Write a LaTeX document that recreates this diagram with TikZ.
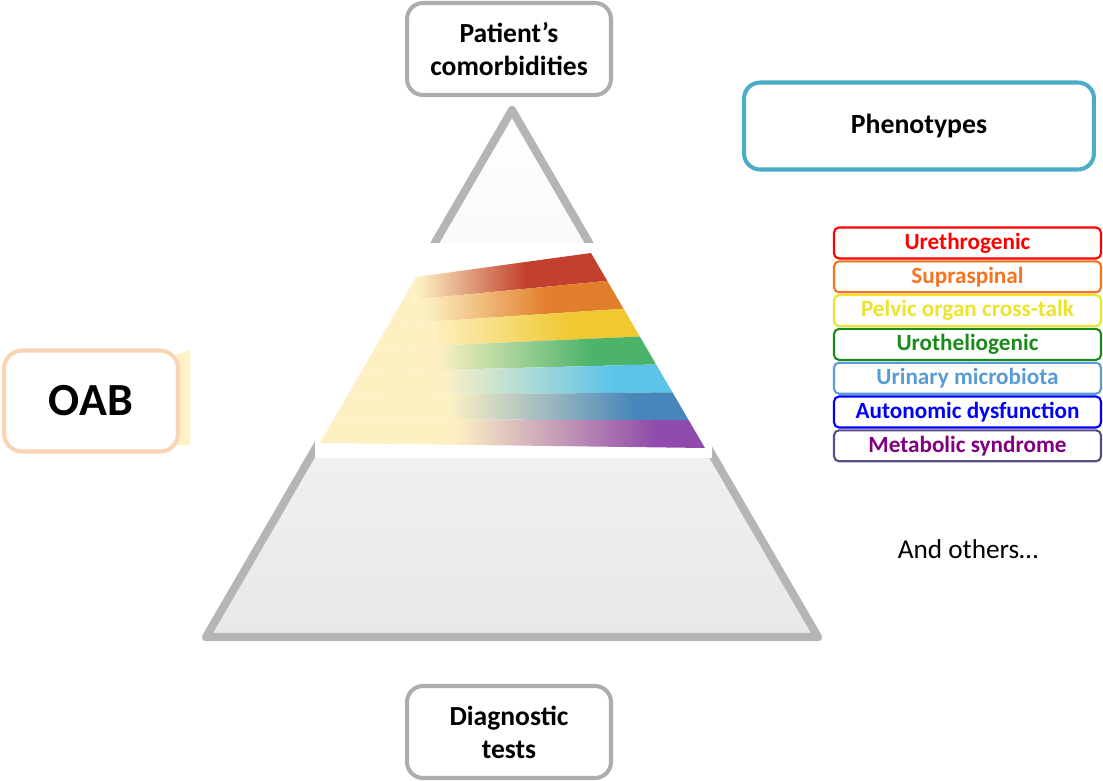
\documentclass[tikz,border=0pt]{standalone}
\usepackage{fontspec}
\setmainfont{Carlito}
\usetikzlibrary{calc}

\definecolor{pyrline}{HTML}{B5B5B5}
\definecolor{boxgrey}{HTML}{ADADAD}
\definecolor{phenoblue}{HTML}{4BACC6}
\definecolor{oabpeach}{HTML}{FBD4B4}
\definecolor{oabshade}{HTML}{FFF2C6}
\definecolor{pale}{HTML}{FDF1C4}
\definecolor{stripeA}{HTML}{C2412E}
\definecolor{stripeB}{HTML}{E17F2C}
\definecolor{stripeC}{HTML}{F0C832}
\definecolor{stripeD}{HTML}{4CB46A}
\definecolor{stripeE}{HTML}{5DC3E9}
\definecolor{stripeF}{HTML}{4786BA}
\definecolor{stripeG}{HTML}{8F4AAB}
\definecolor{lgRed}{HTML}{FF0000}
\definecolor{lgOrange}{HTML}{F8731F}
\definecolor{lgYellow}{HTML}{EDE22C}
\definecolor{lgGreen}{HTML}{1A8A1A}
\definecolor{lgLight}{HTML}{5B9BD5}
\definecolor{lgBlue}{HTML}{0000FF}
\definecolor{lgPurple}{HTML}{800080}
\definecolor{lgPurpleLine}{HTML}{5E4C86}

\tikzset{
	greybox/.style={draw=boxgrey, line width=2.3pt, fill=white, rounded corners=0.32cm,
		minimum width=4.08cm, minimum height=1.84cm, align=center, font=\bfseries\fontsize{15.7}{18.7}\selectfont},
	legbox/.style={line width=1.2pt, fill=white, rounded corners=0.1cm,
		minimum width=5.34cm, minimum height=0.62cm, inner sep=0pt, font=\bfseries\fontsize{13.2}{14}\selectfont}
}

\begin{document}
\begin{tikzpicture}[x=0.02cm, y=-0.02cm]
			%%%%% START %%%%%
			\useasboundingbox (0, 0) rectangle (1103, 781);
			
			% pyramid
			\filldraw[draw=pyrline, line width=4.6pt, line join=round, top color=white, bottom color=white!91!black]
				(512, 110) -- (818, 637) -- (206, 637) -- cycle;
			\fill[white] (315, 243) rectangle (712, 458);
			
			% coloured band
			\coordinate (tl) at (416, 277);
			\coordinate (bl) at (320, 443);
			\coordinate (tr) at (591, 253);
			\coordinate (br) at (705, 448);
			\foreach \c [count=\i from 0] in {stripeA,stripeB,stripeC,stripeD,stripeE,stripeF,stripeG} {
				\pgfmathsetmacro\ta{\i/7}
				\pgfmathsetmacro\tb{(\i+1)/7}
				\pgfmathsetmacro\fa{418+6*\i}
				\pgfmathsetmacro\fb{525+22*\i}
				\begin{scope}
					\clip ($(tl)!\ta!(bl)$) -- ($(tr)!\ta!(br)$) -- ($(tr)!\tb!(br)$) -- ($(tl)!\tb!(bl)$) -- cycle;
					\fill[pale] (300, 240) rectangle (\fa, 460);
					\shade[left color=pale, right color=\c] (\fa, 240) rectangle (\fb, 460);
					\fill[\c] (\fb, 240) rectangle (720, 460);
				\end{scope}
			}
			
			% boxes
			\node[greybox] (comorb) at (509, 49) {Patient’s\\comorbidities};
			\node[greybox] (diag) at (509, 732) {Diagnostic\\tests};
			
			\node[draw=phenoblue, line width=2.3pt, fill=white, rounded corners=0.32cm, minimum width=7cm, minimum height=1.74cm,
				font=\bfseries\fontsize{15.8}{18}\selectfont] (pheno) at (919, 126) {Phenotypes};
			
			\fill[oabshade] (172, 356) -- (190, 350) -- (190, 445) -- (172, 445) -- cycle;
			\node[draw=oabpeach, line width=2.3pt, fill=white, rounded corners=0.36cm, minimum width=3.48cm, minimum height=2.02cm,
				font=\bfseries\fontsize{26.2}{30}\selectfont] (oab) at (91, 401) {OAB};
			
			% phenotype list
			\foreach \txt/\tc/\lc [count=\k from 0] in {
				Urethrogenic/lgRed/lgRed,
				Supraspinal/lgOrange/lgOrange,
				Pelvic organ cross-talk/lgYellow/lgYellow,
				Urotheliogenic/lgGreen/lgGreen,
				Urinary microbiota/lgLight/lgLight,
				Autonomic dysfunction/lgBlue/lgBlue,
				Metabolic syndrome/lgPurple/lgPurpleLine} {
				\node[legbox, draw=\lc, text=\tc] (type\k) at (967.5, 243+33.8*\k) {\txt};
			}
			
			\node[font=\fontsize{15.5}{18}\selectfont] (others) at (968, 549) {And others…};
			%%%%% END %%%%%
\end{tikzpicture}
\end{document}
